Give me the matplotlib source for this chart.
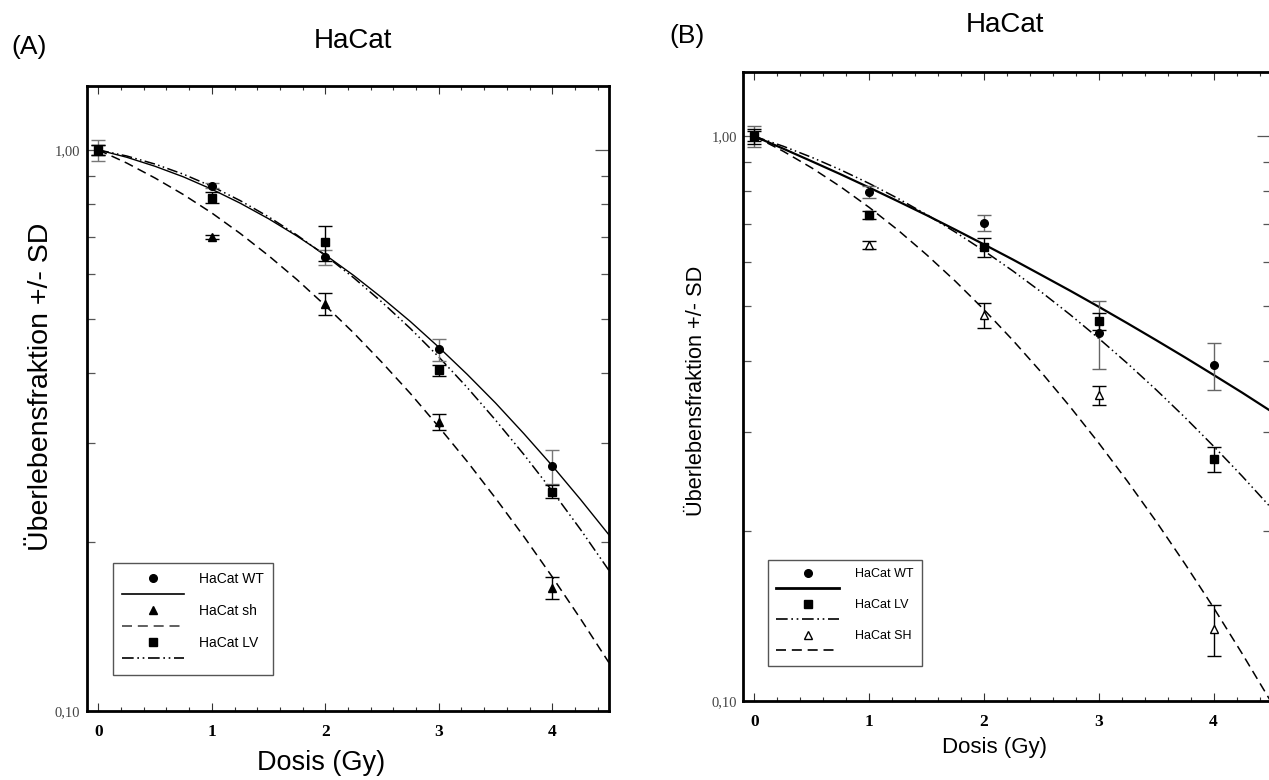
import matplotlib
matplotlib.use("Agg")
import matplotlib.pyplot as plt
from matplotlib.lines import Line2D

# ---------------- data ----------------
dose = [0, 1, 2, 3, 4]
fit_dose = [0, 0.25, 0.5, 0.75, 1.0, 1.25, 1.5, 1.75, 2.0, 2.25, 2.5,
            2.75, 3.0, 3.25, 3.5, 3.75, 4.0, 4.25, 4.5]

# Panel A
a_wt = [1.00, 0.864, 0.644, 0.441, 0.273]
a_wt_sd = [0.043, 0.010, 0.020, 0.020, 0.019]
a_sh = [1.00, 0.699, 0.532, 0.328, 0.166]
a_sh_sd = [0.020, 0.006, 0.024, 0.011, 0.0075]
a_lv = [1.00, 0.822, 0.684, 0.405, 0.246]
a_lv_sd = [0.020, 0.018, 0.049, 0.0095, 0.0068]
a_wt_fit = [1.0, 0.9704, 0.935, 0.8953, 0.851, 0.8037, 0.754, 0.7024, 0.650,
            0.5974, 0.545, 0.4944, 0.445, 0.3982, 0.354, 0.3121, 0.2736,
            0.2381, 0.206]
a_sh_fit = [1.0, 0.9477, 0.891, 0.8325, 0.772, 0.7098, 0.648, 0.5874, 0.528,
            0.4719, 0.418, 0.3680, 0.321, 0.2785, 0.2395, 0.2046, 0.1734,
            0.1459, 0.1219]
a_lv_fit = [1.0, 0.9754, 0.9435, 0.9051, 0.861, 0.8122, 0.760, 0.7050,
            0.6486, 0.5918, 0.5353, 0.4805, 0.4276, 0.3773, 0.330, 0.2865,
            0.2466, 0.2105, 0.178]
a_labels = ["HaCat WT", "HaCat sh", "HaCat LV"]

# Panel B
b_wt = [1.00, 0.797, 0.703, 0.449, 0.393]
b_wt_sd = [0.041, 0.020, 0.023, 0.062, 0.037]
b_lv = [1.00, 0.725, 0.636, 0.470, 0.268]
b_lv_sd = [0.030, 0.012, 0.024, 0.016, 0.0134]
b_sh = [1.00, 0.642, 0.482, 0.348, 0.134]
b_sh_sd = [0.020, 0.010, 0.024, 0.013, 0.014]
b_wt_fit = [1.0, 0.9511, 0.903, 0.8568, 0.8114, 0.7674, 0.725, 0.6834,
            0.6435, 0.6052, 0.568, 0.5329, 0.499, 0.4665, 0.4355, 0.4061,
            0.378, 0.3515, 0.326]
b_lv_fit = [1.0, 0.9605, 0.9178, 0.8724, 0.8251, 0.7763, 0.7267, 0.6767,
            0.6269, 0.5778, 0.5298, 0.4833, 0.4386, 0.3960, 0.3557, 0.3179,
            0.2826, 0.2500, 0.2199]
b_sh_fit = [1.0, 0.9412, 0.879, 0.8142, 0.7483, 0.6823, 0.617, 0.5539,
            0.4932, 0.4356, 0.3818, 0.3319, 0.2862, 0.2449, 0.2079, 0.1750,
            0.1463, 0.1212, 0.0997]
b_labels = ["HaCat WT", "HaCat LV", "HaCat SH"]

x_ticks = [0, 1, 2, 3, 4]
x_minor = [0.2, 0.4, 0.6, 0.8, 1.2, 1.4, 1.6, 1.8, 2.2, 2.4, 2.6, 2.8,
           3.2, 3.4, 3.6, 3.8, 4.2, 4.4]
y_ticks = [0.1, 1.0]
y_ticklabels = ["0,10", "1,00"]
y_minor = [0.2, 0.3, 0.4, 0.5, 0.6, 0.7, 0.8, 0.9]

# ---------------- styling ----------------
SANS = ["Liberation Sans", "DejaVu Sans"]
SERIF = ["Liberation Serif", "DejaVu Serif"]
plt.rcParams["font.family"] = SANS

W, H = 1269, 780
fig = plt.figure(figsize=(W / 100, H / 100), dpi=100)

DASH = (0, (6, 3.5))
DASHDOT = (0, (7, 2.2, 1, 2.2, 1, 2.2))


def px_ax(l, t, r, b):
    return [l / W, 1 - b / H, (r - l) / W, (b - t) / H]


def style_axes(ax, ylab_pad):
    ax.set_yscale("log")
    ax.set_xlim(-0.1, 4.5)
    ax.set_ylim(0.1, 1.3)
    ax.set_xticks(x_ticks)
    ax.set_xticks(x_minor, minor=True)
    ax.set_yticks(y_ticks)
    ax.set_yticklabels(y_ticklabels)
    ax.set_yticks(y_minor, minor=True)
    ax.yaxis.set_minor_formatter(plt.NullFormatter())
    for s in ax.spines.values():
        s.set_linewidth(2.0)
    ax.tick_params(axis="x", which="both", direction="in", top=True,
                   bottom=True, width=0.8, color="#333333", pad=9)
    ax.tick_params(axis="x", which="major", length=6)
    ax.tick_params(axis="x", which="minor", length=3)
    ax.tick_params(axis="y", which="both", direction="in", left=True,
                   right=True, width=0.9, color="#555555", pad=ylab_pad)
    ax.tick_params(axis="y", which="major", length=10)
    ax.tick_params(axis="y", which="minor", length=6)
    for lab in ax.get_xticklabels():
        lab.set_fontfamily(SERIF)
        lab.set_fontweight("bold")
        lab.set_fontsize(12.5)
    for lab in ax.get_yticklabels():
        lab.set_fontfamily(SERIF)
        lab.set_fontsize(10.5)
        lab.set_color("#444444")


def draw_series(ax, y, sd, marker, ecolor, mfc="black", ms=5.5):
    ax.errorbar(dose, y, yerr=sd, fmt=marker, color="black", mfc=mfc,
                mec="black", ms=ms, ecolor=ecolor, elinewidth=1.0,
                capsize=5, capthick=1.0, zorder=4, clip_on=False)


# ---------------- Panel A ----------------
axA = fig.add_axes(px_ax(87, 86, 609, 711))
style_axes(axA, 5)
axA.plot(fit_dose, a_wt_fit, color="black", lw=1.0, ls="-", zorder=3)
axA.plot(fit_dose, a_sh_fit, color="black", lw=1.1, ls=DASH, zorder=3)
axA.plot(fit_dose, a_lv_fit, color="black", lw=1.1, ls=DASHDOT, zorder=3)
draw_series(axA, a_wt, a_wt_sd, "o", "#777777")
draw_series(axA, a_sh, a_sh_sd, "^", "black")
draw_series(axA, a_lv, a_lv_sd, "s", "black")

hA = [
    Line2D([], [], marker="o", ls="none", color="black", ms=5.5),
    Line2D([], [], color="black", lw=1.2, ls="-"),
    Line2D([], [], marker="^", ls="none", color="black", ms=6),
    Line2D([], [], color="#444444", lw=1.2, ls=DASH),
    Line2D([], [], marker="s", ls="none", color="black", ms=5.5),
    Line2D([], [], color="black", lw=1.2, ls=DASHDOT),
]
lA = [a_labels[0], "", a_labels[1], "", a_labels[2], ""]
legA = axA.legend(hA, lA, loc="upper left", bbox_to_anchor=(0.0498, 0.2368),
                  borderaxespad=0, handlelength=4.5,
                  handletextpad=1.1, labelspacing=0.15, borderpad=0.62,
                  fancybox=False, framealpha=1, edgecolor="#555555",
                  prop={"family": SANS, "size": 10})
legA.get_frame().set_linewidth(1.0)

fig.text(353 / W, 1 - 41 / H, "HaCat", ha="center", va="center", fontsize=20)
fig.text(29 / W, 1 - 47 / H, "(A)", ha="center", va="center", fontsize=19)
fig.text(41 / W, 1 - 387 / H, "Überlebensfraktion +/- SD", rotation=90,
         ha="center", va="center", fontsize=20.5)
fig.text(321 / W, 1 - 763 / H, "Dosis (Gy)", ha="center", va="center",
         fontsize=19.5)

# ---------------- Panel B ----------------
axB = fig.add_axes(px_ax(743, 72, 1271, 701))
style_axes(axB, 4.5)
axB.plot(fit_dose, b_wt_fit, color="black", lw=1.6, ls="-", zorder=3)
axB.plot(fit_dose, b_lv_fit, color="black", lw=1.1, ls=DASHDOT, zorder=3)
axB.plot(fit_dose, b_sh_fit, color="black", lw=1.1, ls=DASH, zorder=3)
draw_series(axB, b_sh, b_sh_sd, "^", "black", mfc="white", ms=5.5)
draw_series(axB, b_wt, b_wt_sd, "o", "#666666")
draw_series(axB, b_lv, b_lv_sd, "s", "black")

hB = [
    Line2D([], [], marker="o", ls="none", color="black", ms=5.5),
    Line2D([], [], color="black", lw=2.0, ls="-"),
    Line2D([], [], marker="s", ls="none", color="black", ms=5.5),
    Line2D([], [], color="black", lw=1.2, ls=DASHDOT),
    Line2D([], [], marker="^", ls="none", color="black", mfc="white", ms=5.5),
    Line2D([], [], color="black", lw=1.2, ls=DASH),
]
lB = [b_labels[0], "", b_labels[1], "", b_labels[2], ""]
legB = axB.legend(hB, lB, loc="upper left", bbox_to_anchor=(0.0473, 0.2242),
                  borderaxespad=0, handlelength=5.0, handletextpad=1.28,
                  labelspacing=0.27, borderpad=0.68, fancybox=False,
                  framealpha=1, edgecolor="#555555",
                  prop={"family": SANS, "size": 9})
legB.get_frame().set_linewidth(1.0)

fig.text(1005 / W, 1 - 25 / H, "HaCat", ha="center", va="center", fontsize=20)
fig.text(687 / W, 1 - 36 / H, "(B)", ha="center", va="center", fontsize=19)
fig.text(696 / W, 1 - 391 / H, "Überlebensfraktion +/- SD", rotation=90,
         ha="center", va="center", fontsize=15.7)
fig.text(995 / W, 1 - 748 / H, "Dosis (Gy)", ha="center", va="center",
         fontsize=16)

fig.savefig("out.png", dpi=100)
